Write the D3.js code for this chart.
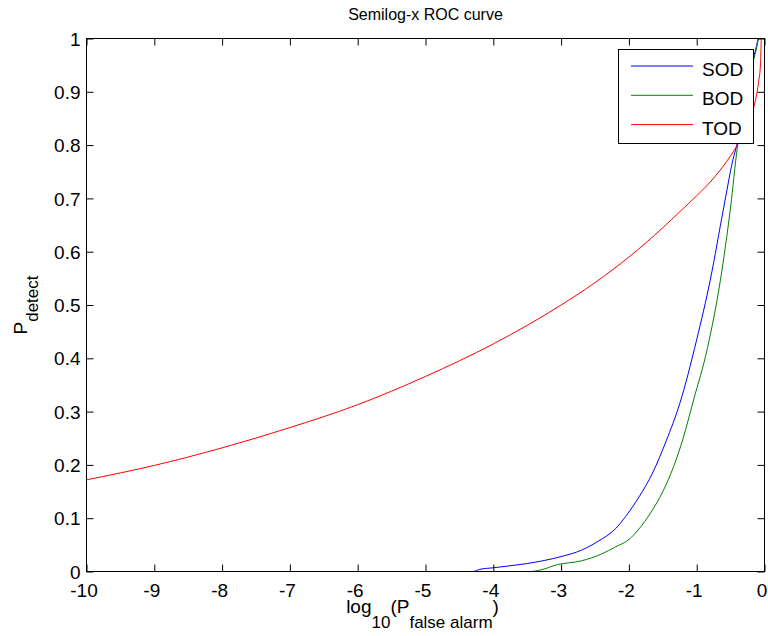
<!DOCTYPE html>
<html>
<head>
<meta charset="utf-8">
<script src="https://cdn.jsdelivr.net/npm/d3@7"></script>
<style>
  body { margin: 0; background: #fff; }
  svg text { font-family: Arial, "Liberation Sans", sans-serif; fill: #000; }
</style>
</head>
<body>
<svg width="768" height="636"></svg>
<script>
// values (x = log10 of P false alarm)
var sodX = [-10, -5, -4.3, -4.2, -4, -3.8, -3.5, -3, -2.7, -2.45, -2.2, -2.05, -1.85, -1.65, -1.45, -1.25, -1, -0.8, -0.6, -0.47, -0.4, -0.3, -0.2, -0.16, -0.12, -0.09, 0];
var sodP = [0, 0, 0, 0.004, 0.007, 0.01, 0.015, 0.028, 0.04, 0.057, 0.08, 0.103, 0.14, 0.185, 0.245, 0.315, 0.435, 0.547, 0.684, 0.77, 0.805, 0.88, 0.94, 0.965, 0.985, 1, 1];

var bodX = [-10, -3.45, -3.3, -3.05, -2.7, -2.4, -2.2, -2, -1.85, -1.68, -1.5, -1.34, -1.2, -1.05, -0.84, -0.65, -0.5, -0.4, -0.3, -0.2, -0.16, -0.12, -0.08, 0];
var bodP = [0, 0, 0.003, 0.013, 0.02, 0.033, 0.046, 0.06, 0.08, 0.11, 0.15, 0.197, 0.25, 0.32, 0.42, 0.547, 0.684, 0.796, 0.87, 0.935, 0.96, 0.98, 1, 1];

var todX = [-10, -9, -8, -7, -6, -5, -4, -3, -2.5, -2, -1.5, -1.25, -1, -0.75, -0.5, -0.4, -0.3, -0.2, -0.16, -0.09, -0.06, -0.045, 0];
var todP = [0.172, 0.199, 0.232, 0.27, 0.313, 0.366, 0.427, 0.5, 0.542, 0.59, 0.645, 0.675, 0.705, 0.738, 0.78, 0.8, 0.825, 0.85, 0.87, 0.916, 0.95, 1, 1];

var legendNames = ["SOD", "BOD", "TOD"];
var xTicks = [-10, -9, -8, -7, -6, -5, -4, -3, -2, -1, 0];
var yTicks = [0, 0.1, 0.2, 0.3, 0.4, 0.5, 0.6, 0.7, 0.8, 0.9, 1];

var series = [
  {name: "SOD", xs: sodX, ps: sodP, color: "#0000ff"},
  {name: "BOD", xs: bodX, ps: bodP, color: "#008000"},
  {name: "TOD", xs: todX, ps: todP, color: "#ff0000"}
];

function drawChart() {
  var svg = d3.select("svg");
  var pLeft = 86.5, pRight = 764.5, pTop = 38.5, pBottom = 571.5;

  var x = d3.scaleLinear().domain([-10, 0]).range([pLeft, pRight]);
  var y = d3.scaleLinear().domain([0, 1]).range([pBottom, pTop]);

  svg.append("clipPath").attr("id", "plotclip")
    .append("rect").attr("x", pLeft).attr("y", pTop - 1)
    .attr("width", pRight - pLeft + 1).attr("height", pBottom - pTop + 2);

  var line = d3.line()
    .curve(d3.curveMonotoneX)
    .x(function(d) { return x(d[0]); })
    .y(function(d) { return y(d[1]); });

  series.forEach(function(s) {
    var pts = s.xs.map(function(v, i) { return [v, s.ps[i]]; });
    svg.append("path")
      .attr("clip-path", "url(#plotclip)")
      .attr("d", line(pts))
      .attr("fill", "none")
      .attr("stroke", s.color)
      .attr("stroke-width", 1);
  });

  // axes, ticks inward on all four sides
  var tl = 7;
  var gb = svg.append("g").attr("transform", "translate(0," + pBottom + ")")
    .call(d3.axisBottom(x).tickValues(xTicks).tickSizeInner(-tl).tickSizeOuter(0)
          .tickFormat(function(d) { return String(d); }));
  var gt = svg.append("g").attr("transform", "translate(0," + pTop + ")")
    .call(d3.axisTop(x).tickValues(xTicks).tickSizeInner(-tl).tickSizeOuter(0).tickFormat(""));
  var gl = svg.append("g").attr("transform", "translate(" + pLeft + ",0)")
    .call(d3.axisLeft(y).tickValues(yTicks).tickSizeInner(-tl).tickSizeOuter(0)
          .tickFormat(function(d) { return String(+d.toFixed(1)); }));
  var gr = svg.append("g").attr("transform", "translate(" + pRight + ",0)")
    .call(d3.axisRight(y).tickValues(yTicks).tickSizeInner(-tl).tickSizeOuter(0).tickFormat(""));

  [gb, gt, gl, gr].forEach(function(g) {
    g.select(".domain").remove();
    g.selectAll("line").attr("stroke", "#000");
    g.selectAll("text").attr("font-size", 19).attr("fill", "#000")
      .attr("font-family", "Arial, 'Liberation Sans', sans-serif");
  });
  gb.selectAll("text").attr("y", 12).attr("dy", "0.71em").attr("dx", -3);
  gl.selectAll("text").attr("x", -6).attr("dy", "0.35em");

  svg.append("rect")
    .attr("x", pLeft).attr("y", pTop)
    .attr("width", pRight - pLeft).attr("height", pBottom - pTop)
    .attr("fill", "none").attr("stroke", "#000").attr("stroke-width", 1);

  // title
  svg.append("text")
    .attr("x", (pLeft + pRight) / 2).attr("y", 20)
    .attr("text-anchor", "middle").attr("font-size", 16)
    .text("Semilog-x ROC curve");

  // x label
  var xl = svg.append("text")
    .attr("x", (pLeft + pRight) / 2 - 3).attr("y", 613)
    .attr("text-anchor", "middle").attr("font-size", 19);
  xl.append("tspan").text("log");
  xl.append("tspan").attr("font-size", 17).attr("dy", 15).text("10");
  xl.append("tspan").attr("dy", -15).text("(P");
  xl.append("tspan").attr("font-size", 17).attr("dy", 15).text("false alarm");
  xl.append("tspan").attr("dy", -15).text(")");

  // y label
  var yl = svg.append("text")
    .attr("transform", "translate(27," + ((pTop + pBottom) / 2) + ") rotate(-90)")
    .attr("text-anchor", "middle").attr("font-size", 19);
  yl.append("tspan").text("P");
  yl.append("tspan").attr("font-size", 17).attr("dy", 11).text("detect");

  // legend
  var lg = svg.append("g");
  lg.append("rect")
    .attr("x", 618.5).attr("y", 49.5).attr("width", 135).attr("height", 94)
    .attr("fill", "#fff").attr("stroke", "#000").attr("stroke-width", 1);
  series.forEach(function(s, i) {
    var ly = 66 + i * 29.3;
    lg.append("line")
      .attr("x1", 631).attr("x2", 693).attr("y1", ly).attr("y2", ly)
      .attr("stroke", s.color).attr("stroke-width", 1);
    lg.append("text")
      .attr("x", 702).attr("y", ly + 10)
      .attr("font-size", 19)
      .text(legendNames[i]);
  });
}

drawChart();
</script>
</body>
</html>
